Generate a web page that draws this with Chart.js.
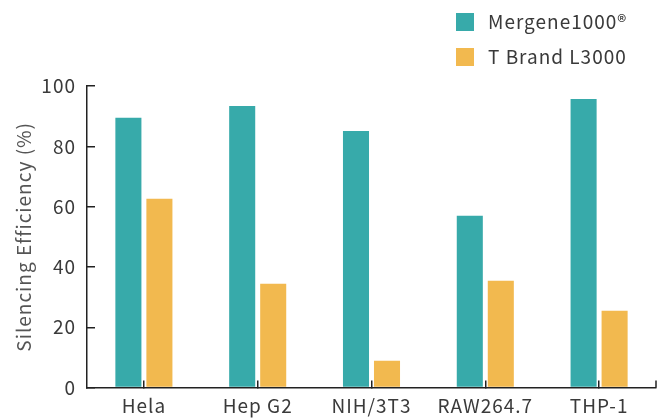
<!DOCTYPE html>
<html>
<head>
<meta charset="utf-8">
<script src="https://cdn.jsdelivr.net/npm/chart.js@4"></script>
<style>
  html, body { margin: 0; padding: 0; background: #fff; }
  #wrap { width: 666px; height: 418px; }
</style>
</head>
<body>
<div id="wrap"><canvas id="chart" width="666" height="418"></canvas></div>
<script>
const cellLines = ["Hela", "Hep G2", "NIH/3T3", "RAW264.7", "THP-1"];
const mergene = [89.5, 93.4, 85.1, 57.0, 95.7];
const tbrand = [62.6, 34.4, 8.9, 35.4, 25.5];
const seriesNames = ["Mergene1000®", "T Brand L3000"];
const seriesColors = ["#37aaaa", "#f2b94f"];
const yTicks = [0, 20, 40, 60, 80, 100];

const fontFamily = "'Noto Sans CJK SC', 'Noto Sans', sans-serif";
const fontSize = 19;
const textColor = "#3a3a3a";
const axisColor = "#222";

// the reference text is a little spaced out
const spacing = {
    id: 'spacing',
    beforeUpdate(chart) { chart.ctx.letterSpacing = '1px'; },
    beforeDraw(chart) { chart.ctx.letterSpacing = '1px'; }
};

// legend drawn top-right as a vertical list
const sideLegend = {
    id: 'sideLegend',
    afterDraw(chart) {
        const c = chart.ctx;
        c.save();
        c.font = "19px " + fontFamily;
        c.textBaseline = 'middle';
        c.textAlign = 'left';
        chart.data.datasets.forEach((ds, i) => {
            const y = 22 + i * 35;
            c.fillStyle = ds.backgroundColor;
            c.fillRect(456, y - 9, 18, 18);
            c.fillStyle = textColor;
            c.fillText(ds.label, 488, y);
        });
        c.restore();
    }
};

// small closing tick at the right end of the x axis
const endTick = {
    id: 'endTick',
    afterDraw(chart) {
        const a = chart.chartArea;
        const c = chart.ctx;
        c.save();
        c.strokeStyle = axisColor;
        c.lineWidth = 1.5;
        c.beginPath();
        c.moveTo(a.right, a.bottom);
        c.lineTo(a.right, a.bottom - 7);
        c.stroke();
        c.restore();
    }
};

new Chart(document.getElementById('chart').getContext('2d'), {
    type: 'bar',
    data: {
        labels: cellLines,
        datasets: [
            { label: seriesNames[0], data: mergene, backgroundColor: seriesColors[0] },
            { label: seriesNames[1], data: tbrand, backgroundColor: seriesColors[1] }
        ]
    },
    options: {
        responsive: false,
        animation: false,
        maintainAspectRatio: false,
        categoryPercentage: 0.545,
        barPercentage: 0.84,
        layout: { padding: { top: 86, right: 10, left: 0, bottom: 0 } },
        plugins: {
            legend: { display: false },
            tooltip: { enabled: false }
        },
        scales: {
            x: {
                afterFit(axis) { axis.height = 30; },
                grid: { offset: false, drawOnChartArea: false, tickLength: -7, color: axisColor, lineWidth: 1.5 },
                border: { color: axisColor, width: 1.5 },
                ticks: { color: textColor, font: { family: fontFamily, size: fontSize }, padding: 14 }
            },
            y: {
                min: 0,
                max: 100,
                afterFit(axis) { axis.width = 87; },
                afterBuildTicks(axis) { axis.ticks = yTicks.map(v => ({ value: v })); },
                grid: { drawOnChartArea: false, tickLength: -8, color: axisColor, lineWidth: 1.5 },
                border: { color: axisColor, width: 1.5 },
                ticks: { color: textColor, font: { family: fontFamily, size: fontSize }, padding: 19 },
                title: {
                    display: true,
                    text: 'Silencing Efficiency (%)',
                    color: '#555',
                    font: { family: fontFamily, size: fontSize },
                    padding: { top: 12, bottom: 0 }
                }
            }
        }
    },
    plugins: [spacing, sideLegend, endTick]
});
</script>
</body>
</html>
